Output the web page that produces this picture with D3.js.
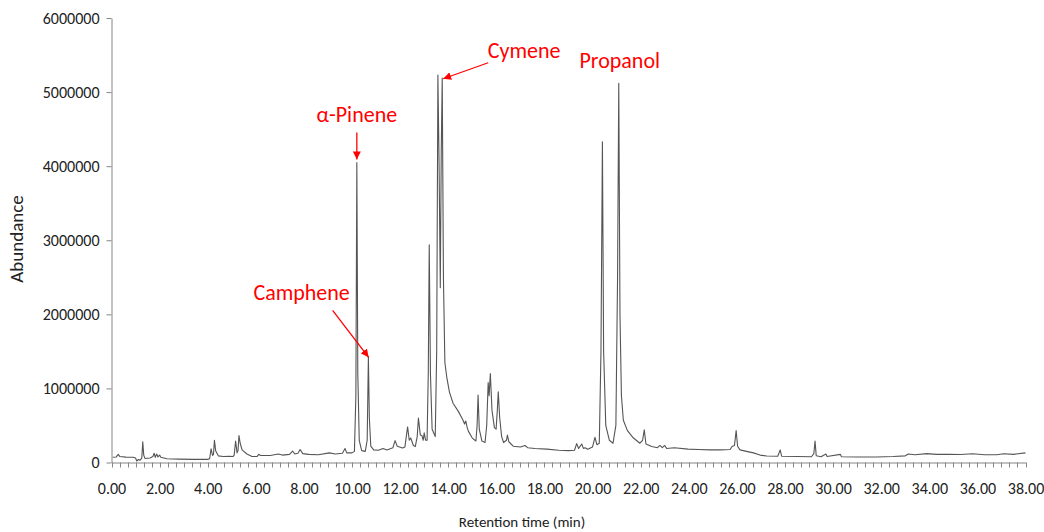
<!DOCTYPE html>
<html>
<head>
<meta charset="utf-8">
<script src="https://cdn.jsdelivr.net/npm/d3@7"></script>
<style>
  html, body { margin: 0; padding: 0; background: #fff; }
  svg text { font-family: Carlito, Calibri, Lato, "Open Sans", sans-serif; }
</style>
</head>
<body>
<svg id="chart" width="1044" height="532"></svg>
<script>
// Retention time (min)
const time = [
  0.05,0.2,0.28,0.35,0.6,0.9,1.0,1.05,1.12,1.18,1.26,1.30,1.34,1.39,1.6,1.72,1.77,1.82,1.88,1.93,2.0,2.05,2.3,2.8,3.4,4.0,
  4.08,4.14,4.2,4.24,4.28,4.33,4.44,4.65,4.9,5.05,5.1,5.16,5.22,5.26,5.3,5.35,5.43,5.63,5.84,6.05,6.12,6.2,6.6,6.94,7.1,7.4,
  7.53,7.62,7.75,7.84,7.95,8.2,8.6,9.06,9.3,9.6,9.71,9.78,10.0,10.1,10.16,10.2,10.24,10.3,10.4,10.55,10.63,10.68,10.72,10.78,
  10.9,11.1,11.29,11.45,11.7,11.79,11.88,12.1,12.2,12.31,12.38,12.44,12.55,12.63,12.71,12.76,12.84,12.91,12.96,13.0,13.06,
  13.12,13.17,13.21,13.26,13.33,13.46,13.52,13.57,13.62,13.67,13.71,13.75,13.8,13.86,13.94,14.05,14.2,14.42,14.6,14.68,14.73,
  14.78,14.84,15.0,15.15,15.2,15.24,15.29,15.4,15.53,15.6,15.66,15.7,15.75,15.82,15.92,15.99,16.04,16.08,16.14,16.22,16.3,
  16.42,16.46,16.52,16.7,17.0,17.19,17.3,17.6,18.1,18.6,19.0,19.25,19.34,19.42,19.55,19.62,19.69,19.8,20.0,20.1,20.18,20.28,
  20.35,20.41,20.46,20.55,20.7,20.85,20.97,21.04,21.09,21.14,21.2,21.28,21.45,21.7,21.97,22.08,22.15,22.22,22.46,22.7,22.8,
  22.9,23.0,23.08,23.4,23.97,24.4,24.88,25.3,25.72,25.8,25.9,25.97,26.03,26.13,26.4,26.69,26.96,27.24,27.7,27.8,27.86,28.5,
  29.1,29.2,29.25,29.3,29.5,29.7,29.75,30.3,30.35,31.0,31.8,32.5,33.0,33.13,33.4,33.9,34.3,34.8,35.3,35.8,36.3,36.8,37.1,37.5,38.0
];
// Abundance
const abundance = [
  70000,75000,110000,80000,72000,70000,60000,20000,40000,30000,60000,280000,100000,55000,60000,80000,125000,70000,115000,75000,100000,70000,50000,45000,42000,42000,
  50000,185000,95000,110000,300000,160000,90000,80000,85000,80000,100000,290000,130000,160000,365000,260000,170000,115000,80000,80000,110000,95000,95000,115000,100000,110000,
  155000,115000,125000,175000,120000,110000,105000,130000,115000,125000,190000,130000,130000,150000,900000,4050000,1200000,300000,160000,150000,300000,1430000,600000,220000,
  170000,165000,190000,170000,200000,295000,220000,195000,210000,480000,300000,330000,230000,215000,350000,600000,370000,360000,300000,400000,300000,
  300000,1200000,2940000,1200000,450000,350000,1500000,5230000,4000000,2360000,4200000,5190000,2500000,1350000,1150000,950000,800000,690000,580000,520000,560000,
  480000,420000,330000,290000,500000,910000,450000,290000,270000,500000,1080000,900000,1200000,700000,470000,450000,700000,955000,600000,350000,270000,
  300000,370000,280000,220000,210000,230000,200000,190000,180000,165000,160000,165000,255000,190000,250000,190000,200000,180000,210000,340000,240000,260000,
  1500000,4330000,1500000,500000,300000,260000,500000,2500000,5120000,2000000,900000,570000,430000,330000,260000,300000,440000,250000,215000,200000,230000,
  200000,230000,190000,200000,180000,175000,170000,170000,175000,215000,230000,430000,220000,170000,150000,130000,100000,88000,85000,170000,85000,80000,
  78000,120000,290000,90000,78000,115000,80000,110000,78000,75000,75000,80000,90000,115000,105000,120000,110000,110000,108000,118000,105000,105000,118000,110000,130000
];

const xTickValues = [0,2,4,6,8,10,12,14,16,18,20,22,24,26,28,30,32,34,36,38];
const yTickValues = [0,1000000,2000000,3000000,4000000,5000000,6000000];

// Annotated peaks: label, retention time of arrow tip, abundance of arrow tip
const peakNames = ["α-Pinene", "Camphene", "Cymene", "Propanol"];
const peakTimes = [10.2, 10.69, 13.79, 21.09];
const peakAbund = [4090000, 1420000, 5180000, 5120000];

const svg = d3.select("#chart");
const x = d3.scaleLinear().domain([0, 38]).range([111.5, 1025.5]);
const y = d3.scaleLinear().domain([0, 6000000]).range([462.5, 18]);
const axisColor = "#868686";
const textColor = "#222";

// minor tick marks on x axis (every 1/3 min)
const minor = d3.range(0, 38 * 3 + 1).map(i => i / 3);
svg.append("g").selectAll("line").data(minor).join("line")
  .attr("x1", d => Math.round(x(d)) + 0.5).attr("x2", d => Math.round(x(d)) + 0.5)
  .attr("y1", y(0)).attr("y2", y(0) + 5)
  .attr("stroke", axisColor).attr("stroke-width", 1);

// x axis
const xAxis = d3.axisBottom(x).tickValues(xTickValues).tickFormat(d3.format(".2f"))
  .tickSize(0).tickPadding(20);
const gx = svg.append("g").attr("transform", `translate(0,${y(0)})`).call(xAxis);
gx.select(".domain").attr("stroke", axisColor);
gx.selectAll("text").attr("font-size", 16).attr("fill", textColor);

// y axis
const yAxis = d3.axisLeft(y).tickValues(yTickValues).tickFormat(d3.format("d"))
  .tickSize(5).tickSizeOuter(0).tickPadding(7);
const gy = svg.append("g").attr("transform", `translate(111.5,0)`).call(yAxis);
gy.select(".domain").attr("stroke", axisColor);
gy.selectAll(".tick line").attr("stroke", axisColor);
gy.selectAll("text").attr("font-size", 16).attr("fill", textColor);

// trace
const pts = time.map((t, i) => [t, abundance[i]]);
svg.append("path").datum(pts)
  .attr("fill", "none").attr("stroke", "#555").attr("stroke-width", 1.1)
  .attr("stroke-linejoin", "round")
  .attr("d", d3.line().x(d => x(d[0])).y(d => y(d[1])));

// axis titles
svg.append("text").attr("x", 522).attr("y", 527).attr("text-anchor", "middle")
  .attr("font-size", 15).attr("fill", textColor).text("Retention time (min)");
svg.append("text").attr("transform", "translate(23,239) rotate(-90)")
  .attr("text-anchor", "middle").attr("font-size", 19).attr("fill", textColor).text("Abundance");

// annotations
const red = "#ff0000";
const defs = svg.append("defs");
defs.append("marker").attr("id", "arr").attr("viewBox", "0 0 10 10")
  .attr("refX", 10).attr("refY", 5).attr("markerWidth", 8).attr("markerHeight", 8)
  .attr("markerUnits", "userSpaceOnUse").attr("orient", "auto")
  .append("path").attr("d", "M0,0 L10,5 L0,10 z").attr("fill", red);

// label offsets (px) relative to arrow tip: [labelDx, labelDy, arrowStartDx, arrowStartDy, hasArrow]
const layout = [
  [0, -43, 0, -27, true],
  [-67, -63, -36, -47, true],
  [81, -26, 45, -16, true],
  [1, -20, 0, 0, false]
];
peakNames.forEach((name, i) => {
  const tx = x(peakTimes[i]), ty = y(peakAbund[i]);
  const L = layout[i];
  svg.append("text").attr("x", tx + L[0]).attr("y", ty + L[1])
    .attr("text-anchor", "middle").attr("dominant-baseline", "middle")
    .attr("font-size", 22).attr("fill", red).text(name);
  if (L[4]) {
    svg.append("line").attr("x1", tx + L[2]).attr("y1", ty + L[3])
      .attr("x2", tx).attr("y2", ty)
      .attr("stroke", red).attr("stroke-width", 1.3).attr("marker-end", "url(#arr)");
  }
});
</script>
</body>
</html>
